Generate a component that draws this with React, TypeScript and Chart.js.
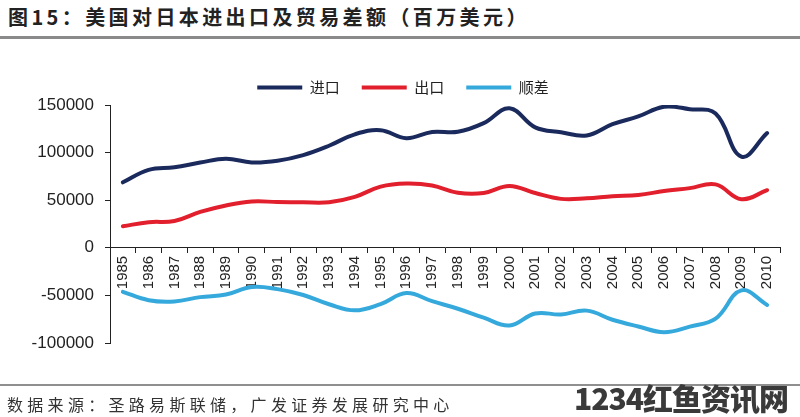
import React, { useEffect, useRef } from "react";
import { Chart, registerables } from "chart.js";

Chart.register(...registerables);

const years = [
  "1985", "1986", "1987", "1988", "1989", "1990", "1991", "1992", "1993",
  "1994", "1995", "1996", "1997", "1998", "1999", "2000", "2001", "2002",
  "2003", "2004", "2005", "2006", "2007", "2008", "2009", "2010",
];

const importValues = [
  68800, 81900, 84600, 89500, 93600, 89700, 91500, 97400, 107200, 119200,
  123500, 115200, 121700, 121800, 130900, 146500, 126500, 121400, 118000,
  129800, 138000, 148200, 145500, 141000, 95800, 120500,
];

const exportValues = [
  22600, 26900, 28200, 37700, 44500, 48600, 48100, 47800, 47900, 53500,
  64300, 67600, 65500, 57800, 57500, 64900, 57500, 51400, 52000, 54200,
  55400, 59600, 62700, 66600, 51100, 60500,
];

const balanceValues = [
  -46200, -55000, -56300, -51800, -49100, -41100, -43400, -49600, -59300,
  -65700, -59100, -47600, -56100, -64000, -73400, -81600, -69000, -70000,
  -66000, -75600, -82600, -88600, -82800, -74400, -44700, -60000,
];

const seriesNames = ["进口", "出口", "顺差"];
const yMin = -100000;
const yMax = 150000;
const yStep = 50000;

const titleText = "图15：美国对日本进出口及贸易差额（百万美元）";
const sourceText = "数据来源：圣路易斯联储，广发证券发展研究中心";
const watermarkText = "1234红鱼资讯网";

export default function App() {
  const canvasRef = useRef<HTMLCanvasElement | null>(null);

  useEffect(() => {
    if (!canvasRef.current) return;
    const axisColor = "#222";
    const chart = new Chart(canvasRef.current, {
      type: "line",
      data: {
        labels: years,
        datasets: [
          {
            label: seriesNames[0],
            data: importValues,
            borderColor: "#1b2a5c",
            backgroundColor: "#1b2a5c",
          },
          {
            label: seriesNames[1],
            data: exportValues,
            borderColor: "#e21f2c",
            backgroundColor: "#e21f2c",
          },
          {
            label: seriesNames[2],
            data: balanceValues,
            borderColor: "#36a9dc",
            backgroundColor: "#36a9dc",
          },
        ].map((d) => ({
          ...d,
          borderWidth: 4,
          tension: 0.4,
          pointRadius: 0,
          pointHoverRadius: 0,
          borderCapStyle: "round" as const,
          borderJoinStyle: "round" as const,
          fill: false,
        })),
      },
      options: {
        responsive: false,
        animation: false,
        devicePixelRatio: 1,
        layout: { padding: { top: 58, left: 26, right: 20, bottom: 74 } },
        plugins: {
          tooltip: { enabled: false },
          legend: {
            display: true,
            position: "top",
            maxHeight: 47,
            labels: {
              usePointStyle: true,
              pointStyle: "line",
              pointStyleWidth: 45,
              padding: 22,
              color: "#222",
              font: { family: "'Noto Sans CJK SC', sans-serif", size: 15 },
            },
          },
        },
        scales: {
          x: {
            position: { y: 0 } as any,
            offset: true,
            grid: {
              display: true,
              offset: true,
              drawOnChartArea: false,
              drawTicks: true,
              tickLength: 5,
              color: axisColor,
            },
            border: { display: true, color: axisColor, width: 1 },
            ticks: {
              autoSkip: false,
              maxRotation: 90,
              minRotation: 90,
              padding: 3,
              color: "#222",
              font: { family: "'Liberation Sans', Arial, sans-serif", size: 15 },
            },
          },
          y: {
            min: yMin,
            max: yMax,
            afterFit: (scale: any) => {
              scale.width = 84;
            },
            grid: {
              display: true,
              drawOnChartArea: false,
              drawTicks: true,
              tickLength: 5,
              color: axisColor,
            },
            border: { display: true, color: axisColor, width: 1 },
            ticks: {
              stepSize: yStep,
              padding: 11,
              color: "#222",
              font: { family: "'Liberation Sans', Arial, sans-serif", size: 17 },
              callback: (v: any) => String(v),
            },
          },
        },
      },
    });
    return () => chart.destroy();
  }, []);

  return (
    <div
      style={{
        position: "fixed",
        left: 0,
        top: 0,
        width: 800,
        height: 417,
        background: "#fff",
        overflow: "hidden",
      }}
    >
      <div
        style={{
          position: "absolute",
          left: 8,
          top: 3,
          fontFamily: "'Noto Sans CJK SC', sans-serif",
          fontWeight: 700,
          fontSize: 20,
          letterSpacing: 3.4,
          color: "#222",
          whiteSpace: "nowrap",
          lineHeight: "28px",
        }}
      >
        {titleText}
      </div>
      <div
        style={{
          position: "absolute",
          left: 0,
          top: 36,
          width: 800,
          height: 3,
          background: "#8a8a8a",
        }}
      />
      <canvas
        ref={canvasRef}
        width={800}
        height={417}
        style={{ position: "absolute", left: 0, top: 0, width: 800, height: 417 }}
      />
      <div
        style={{
          position: "absolute",
          left: 0,
          top: 384,
          width: 800,
          height: 2,
          background: "#8f8f8f",
        }}
      />
      <div
        style={{
          position: "absolute",
          left: 7,
          top: 393,
          fontFamily: "'Noto Sans CJK SC', sans-serif",
          fontSize: 16,
          letterSpacing: 4.3,
          color: "#333",
          whiteSpace: "nowrap",
          lineHeight: "22px",
        }}
      >
        {sourceText}
      </div>
      <div
        style={{
          position: "absolute",
          left: 574,
          top: 378,
          fontFamily: "'Noto Sans CJK SC', sans-serif",
          fontWeight: 900,
          fontSize: 30,
          color: "#3a3a3a",
          whiteSpace: "nowrap",
          lineHeight: "38px",
          letterSpacing: -1,
        }}
      >
        {watermarkText}
      </div>
    </div>
  );
}
